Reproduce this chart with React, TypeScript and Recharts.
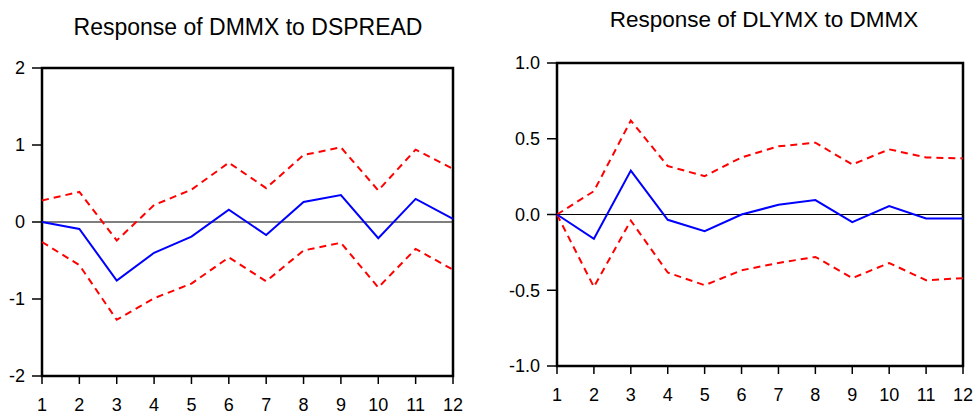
import React from "react";
import { LineChart, Line, XAxis, YAxis, ReferenceLine, ReferenceArea } from "recharts";

const steps = [1, 2, 3, 4, 5, 6, 7, 8, 9, 10, 11, 12];

// Response of DMMX to DSPREAD
const dmmxResp = [0.0, -0.09, -0.76, -0.4, -0.19, 0.16, -0.17, 0.26, 0.35, -0.21, 0.3, 0.04];
const dmmxUpper = [0.28, 0.39, -0.24, 0.22, 0.42, 0.77, 0.44, 0.87, 0.97, 0.41, 0.94, 0.69];
const dmmxLower = [-0.26, -0.56, -1.27, -0.99, -0.8, -0.46, -0.77, -0.37, -0.27, -0.85, -0.35, -0.62];
const leftTicks = [-2, -1, 0, 1, 2];

// Response of DLYMX to DMMX
const dlymxResp = [0.0, -0.16, 0.29, -0.035, -0.11, 0.0, 0.064, 0.095, -0.05, 0.055, -0.026, -0.026];
const dlymxUpper = [0.0, 0.154, 0.62, 0.32, 0.253, 0.377, 0.45, 0.474, 0.33, 0.43, 0.377, 0.37];
const dlymxLower = [0.0, -0.478, -0.04, -0.383, -0.467, -0.368, -0.32, -0.28, -0.42, -0.32, -0.434, -0.42];
const rightTicks = [-1, -0.5, 0, 0.5, 1];

const font = "'Liberation Sans', Arial, sans-serif";

const makeRows = (resp: number[], up: number[], lo: number[]) =>
  steps.map((s, i) => ({ step: s, resp: resp[i], upper: up[i], lower: lo[i] }));

type PanelProps = {
  left: number;
  width: number;
  top: number;
  rightMargin: number;
  yWidth: number;
  xHeight: number;
  yTicks: number[];
  rows: any[];
  fmt?: (v: number) => string;
};

function Panel(p: PanelProps) {
  const lo = p.yTicks[0];
  const hi = p.yTicks[p.yTicks.length - 1];
  const tick = { fill: "#000", fontSize: 18, fontFamily: font };
  return (
    <div style={{ position: "absolute", left: p.left, top: 0 }}>
      <LineChart
        width={p.width}
        height={416}
        data={p.rows}
        margin={{ top: p.top, right: p.rightMargin, bottom: 0, left: 0 }}
      >
        <XAxis
          dataKey="step"
          type="number"
          domain={[1, 12]}
          ticks={steps}
          interval={0}
          height={p.xHeight}
          axisLine={false}
          tickLine={{ stroke: "#000", strokeWidth: 1.5 }}
          tickSize={8}
          tickMargin={14}
          tick={tick}
        />
        <YAxis
          type="number"
          domain={[lo, hi]}
          ticks={p.yTicks}
          interval={0}
          width={p.yWidth}
          axisLine={false}
          tickLine={{ stroke: "#000", strokeWidth: 1.5 }}
          tickSize={10}
          tickMargin={7}
          tick={tick}
          tickFormatter={p.fmt}
        />
        <ReferenceLine y={0} stroke="#000" strokeWidth={1.2} />
        <Line
          dataKey="upper"
          stroke="#ff0000"
          strokeWidth={2}
          strokeDasharray="7 5"
          dot={false}
          isAnimationActive={false}
        />
        <Line
          dataKey="lower"
          stroke="#ff0000"
          strokeWidth={2}
          strokeDasharray="7 5"
          dot={false}
          isAnimationActive={false}
        />
        <Line
          dataKey="resp"
          stroke="#0000ff"
          strokeWidth={2}
          dot={false}
          isAnimationActive={false}
        />
        <ReferenceArea
          x1={1}
          x2={12}
          y1={lo}
          y2={hi}
          fill="none"
          fillOpacity={0}
          stroke="#000"
          strokeWidth={2.5}
          strokeOpacity={1}
          ifOverflow="visible"
        />
      </LineChart>
    </div>
  );
}

export default function App() {
  return (
    <div
      style={{
        position: "fixed",
        left: 0,
        top: 0,
        width: 977,
        height: 416,
        background: "#fff",
        fontFamily: font,
      }}
    >
      <Panel
        left={0}
        width={470}
        top={68}
        rightMargin={17}
        yWidth={42}
        xHeight={40}
        yTicks={leftTicks}
        rows={makeRows(dmmxResp, dmmxUpper, dmmxLower)}
      />
      <Panel
        left={490}
        width={487}
        top={63}
        rightMargin={14}
        yWidth={67}
        xHeight={50}
        yTicks={rightTicks}
        rows={makeRows(dlymxResp, dlymxUpper, dlymxLower)}
        fmt={(v: number) => v.toFixed(1)}
      />
      <div
        style={{
          position: "absolute",
          left: 48,
          width: 400,
          top: 15.5,
          textAlign: "center",
          fontSize: 23,
          lineHeight: 1,
          color: "#000",
        }}
      >
        Response of DMMX to DSPREAD
      </div>
      <div
        style={{
          position: "absolute",
          left: 564,
          width: 400,
          top: 9,
          textAlign: "center",
          fontSize: 22.5,
          lineHeight: 1,
          color: "#000",
        }}
      >
        Response of DLYMX to DMMX
      </div>
    </div>
  );
}
